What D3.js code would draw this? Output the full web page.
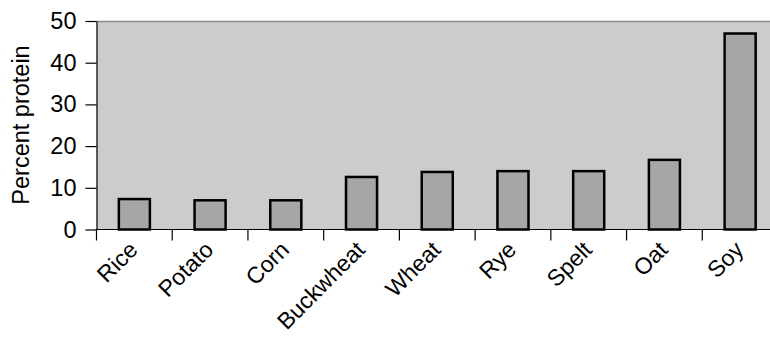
<!DOCTYPE html>
<html><head><meta charset="utf-8">
<script src="https://cdn.jsdelivr.net/npm/d3@7"></script>
<style>body{margin:0;background:#fff}svg{display:block}text{font-family:"Liberation Sans",Arial,sans-serif}</style>
</head><body>
<svg id="c" width="770" height="339"></svg>
<script>
const categories = ["Rice","Potato","Corn","Buckwheat","Wheat","Rye","Spelt","Oat","Soy"];
const values = [7.3, 7.0, 7.0, 12.6, 13.8, 14.0, 14.0, 16.7, 47.0];
const yTicks = [0,10,20,30,40,50];
const yTitle = "Percent protein";

const svg = d3.select("#c");
const mLeft = 96.5, mTop = 21, mBottom = 229.5, mRight = 778;
const x = d3.scaleBand().domain(categories).range([mLeft, mRight]).paddingInner(0.59).paddingOuter(0.295);
const y = d3.scaleLinear().domain([0,50]).range([mBottom, mTop]);

svg.append("rect").attr("x", mLeft).attr("y", mTop).attr("width", mRight-mLeft).attr("height", mBottom-mTop).attr("fill", "#cccccc");
svg.append("line").attr("x1", mLeft).attr("x2", mRight).attr("y1", mTop+0.5).attr("y2", mTop+0.5).attr("stroke", "#888").attr("stroke-width", 1.5);

svg.append("g").selectAll("rect").data(categories).join("rect")
  .attr("x", d => x(d)).attr("y", (d,i) => y(values[i]))
  .attr("width", x.bandwidth()).attr("height", (d,i) => y(0) - y(values[i]))
  .attr("fill", "#a6a6a6").attr("stroke", "#000").attr("stroke-width", 2.5);

// y axis
const ya = svg.append("g").attr("transform", `translate(${mLeft},0)`)
  .call(d3.axisLeft(y).tickValues(yTicks).tickSize(11).tickPadding(9).tickSizeOuter(0));
ya.attr("font-size", null).attr("font-family", null);
ya.select(".domain").attr("stroke", "#000").attr("stroke-width", 1.2);
ya.selectAll(".tick line").attr("stroke", "#000").attr("stroke-width", 1.2);
ya.selectAll(".tick text").style("font-size", "23.5px").attr("fill", "#000");

// x axis with ticks at band boundaries
const step = x.step();
const bounds = d3.range(categories.length + 1).map(i => mLeft + i*step);
svg.append("line").attr("x1", mLeft).attr("x2", mRight).attr("y1", mBottom).attr("y2", mBottom).attr("stroke", "#000").attr("stroke-width", 1.2);
svg.append("g").selectAll("line").data(bounds).join("line")
  .attr("x1", d => d).attr("x2", d => d).attr("y1", mBottom).attr("y2", mBottom + 11)
  .attr("stroke", "#000").attr("stroke-width", 1.2);

svg.append("g").selectAll("text").data(categories).join("text")
  .attr("transform", d => `translate(${x(d) + x.bandwidth()/2 - 1},${mBottom + 16}) rotate(-45)`)
  .attr("text-anchor", "end").attr("dy", "0.35em").style("font-size", "23px").attr("fill", "#000")
  .text(d => d);

svg.append("text").attr("transform", `translate(29,125) rotate(-90)`)
  .attr("text-anchor", "middle").style("font-size", "23.5px").attr("fill", "#000").text(yTitle);
</script>
</body></html>
